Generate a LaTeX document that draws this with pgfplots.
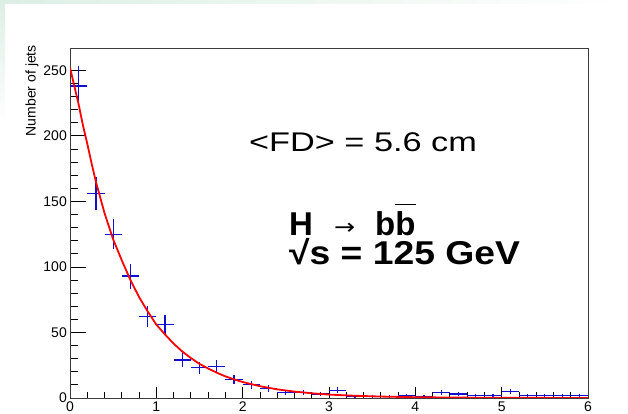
\documentclass[border=0pt]{standalone}
\usepackage{fontspec}
\setmainfont{Liberation Sans}
\newfontfamily\symfont{DejaVu Sans}
\usepackage{pgfplots}
\pgfplotsset{compat=1.18}
\usepackage{pgfplotstable}

\definecolor{rootblue}{RGB}{15,15,205}
\definecolor{rootred}{RGB}{255,0,0}
\definecolor{framegray}{RGB}{60,60,60}
\definecolor{edgetint}{RGB}{220,239,228}

% flight-distance histogram: bin centre, half bin width, counts, Poisson error
\pgfplotstableread{
x   ex   y    ey
0.1 0.1  238  15.4
0.3 0.1  156  12.5
0.5 0.1  125  11.2
0.7 0.1  93   9.6
0.9 0.1  62   7.9
1.1 0.1  56   7.5
1.3 0.1  29   5.4
1.5 0.1  23   4.8
1.7 0.1  24   4.9
1.9 0.1  14   3.7
2.1 0.1  10   3.2
2.3 0.1  7    2.6
2.5 0.1  4    2.0
2.7 0.1  4    2.0
2.9 0.1  3    1.7
3.1 0.1  6    2.4
3.3 0.1  1    1.0
3.5 0.1  1    1.0
3.7 0.1  1    1.0
3.9 0.1  2    1.4
4.1 0.1  1    1.0
4.3 0.1  4    2.0
4.5 0.1  3    1.7
4.7 0.1  2    1.4
4.9 0.1  2    1.4
5.1 0.1  5    2.2
5.3 0.1  2    1.4
5.5 0.1  2    1.4
5.7 0.1  2    1.4
5.9 0.1  2    1.4
}\jets

% exponential fit curve
\pgfplotstableread{
x    y
0.00 252
0.05 238
0.10 224
0.15 208
0.20 194
0.25 179
0.30 165
0.40 141
0.50 121
0.60 105
0.70 90
0.80 77
0.90 66
1.00 56
1.10 48.5
1.20 41.5
1.30 35.5
1.40 30.5
1.50 26
1.60 22.5
1.70 19.3
1.80 16.5
1.90 14.2
2.00 12.2
2.20 9.0
2.40 6.6
2.60 4.9
2.80 3.6
3.00 2.6
3.30 1.7
3.60 1.1
4.00 0.6
4.50 0.3
5.00 0.15
5.50 0.08
6.00 0.04
}\fit

\pgfplotsset{
  rootaxis/.style={
    scale only axis, width=518pt, height=350pt,
    at={(70pt,16pt)}, anchor=south west,
    xmin=0, xmax=6, ymin=0, ymax=267,
    tick align=inside, tick pos=left,
    axis line style={framegray, line width=0.9pt},
    every tick/.style={black, line width=0.8pt},
    ticklabel style={font=\fontsize{14}{14}\selectfont},
    /pgf/number format/assume math mode=true,
    scaled ticks=false,
  }
}

\newcommand\barb[1]{\setbox0\hbox{#1}\rlap{\raisebox{\dimexpr\ht0+7pt}{\rule{\wd0}{0.9pt}}}\box0}

\begin{document}
\begin{tikzpicture}[x=1pt,y=1pt]
\path[use as bounding box] (0,0) rectangle (628,414);
\fill[white] (0,0) rectangle (628,414);
\shade[top color=edgetint, bottom color=white] (0,290) rectangle (5,414);
\shade[left color=edgetint, right color=white] (0,410) rectangle (628,414);

% frame with y ticks
\begin{axis}[rootaxis,
  xtick=\empty,
  ytick={0,50,...,250}, minor y tick num=4,
  major tick length=15.5pt, minor tick length=8pt,
  yticklabel style={anchor=east, inner sep=0pt, xshift=-3pt},
]
\end{axis}

% x ticks, histogram and fit
\begin{axis}[rootaxis,
  ytick=\empty,
  xtick={0,...,6}, minor x tick num=4,
  major tick length=10.5pt, minor tick length=5.5pt,
  xticklabel style={anchor=north, inner sep=0pt, yshift=-4pt},
]
\addplot[color=rootblue, draw=none, mark=none,
  error bars/.cd, x dir=both, x explicit, y dir=both, y explicit,
  error mark=none,
  error bar style={color=rootblue, draw=rootblue, solid, line width=1.2pt}]
  table[x=x, y=y, x error=ex, y error=ey] {\jets};
\addplot[rootred, line width=1.8pt] table[x=x, y=y] {\fit};
\end{axis}

\node[rotate=90, anchor=east, inner sep=0pt, font=\fontsize{14}{14}\selectfont]
  at (32,369) {Number of jets};

\node[anchor=base west, inner sep=0pt, font=\fontsize{27}{27}\selectfont]
  at (249,262.3) {\scalebox{1.27}[1]{<FD> = 5.6 cm}};

\node[anchor=base west, inner sep=0pt, font=\fontsize{33}{33}\selectfont\bfseries]
  at (289,178) {H};
\node[anchor=base west, inner sep=0pt, font=\fontsize{24}{24}\selectfont\symfont]
  at (334,179) {\scalebox{1.05}[0.9]{→}};
\node[anchor=base west, inner sep=0pt, font=\fontsize{33}{33}\selectfont\bfseries]
  at (375,178) {b\barb{b}};

\node[anchor=base west, inner sep=0pt, font=\fontsize{33}{33}\selectfont\bfseries]
  at (289,149) {\scalebox{1.13}[1]{√s = 125 GeV}};
\end{tikzpicture}
\end{document}
